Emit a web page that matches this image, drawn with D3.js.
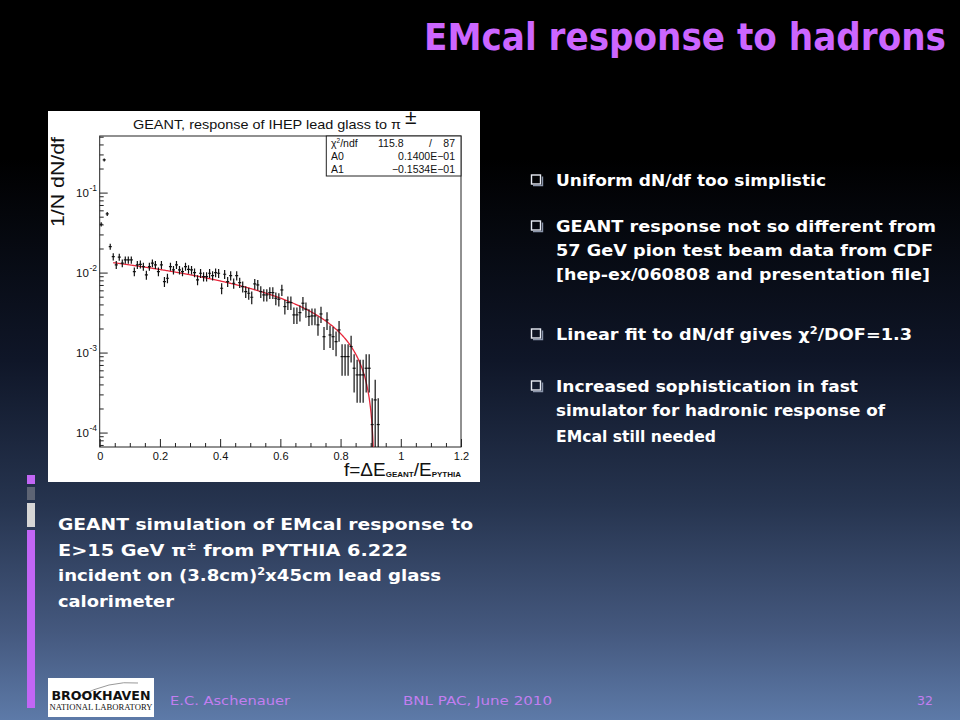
<!DOCTYPE html>
<html><head><meta charset="utf-8">
<script src="https://cdn.jsdelivr.net/npm/d3@7"></script>
<style>body{margin:0;background:#000;overflow:hidden}</style>
</head><body>
<svg id="c" width="960" height="720"></svg>
<script>
// ---- data ----
const binCenters = [0.005,0.015,0.025,0.035,0.045,0.055,0.065,0.075,0.085,0.095,
0.105,0.115,0.125,0.135,0.145,0.155,0.165,0.175,0.185,0.195,
0.205,0.215,0.225,0.235,0.245,0.255,0.265,0.275,0.285,0.295,
0.305,0.315,0.325,0.335,0.345,0.355,0.365,0.375,0.385,0.395,
0.405,0.415,0.425,0.435,0.445,0.455,0.465,0.475,0.485,0.495,
0.505,0.515,0.525,0.535,0.545,0.555,0.565,0.575,0.585,0.595,
0.605,0.615,0.625,0.635,0.645,0.655,0.665,0.675,0.685,0.695,
0.705,0.715,0.725,0.735,0.745,0.755,0.765,0.775,0.785,0.795,
0.805,0.815,0.825,0.835,0.845,0.855,0.865,0.875,0.885,0.895,
0.905,0.915,0.925];
const dNdf = [0.0402,0.256,0.0541,0.0211,0.0158,0.0125,0.0156,0.0131,0.0144,0.0144,
0.0144,0.0103,0.0125,0.0127,0.0119,0.00935,0.0119,0.0131,0.0125,0.0103,
0.0125,0.00772,0.00850,0.0119,0.0108,0.0125,0.0108,0.0103,0.0119,0.0110,
0.0108,0.0100,0.00810,0.00981,0.00891,0.00891,0.00981,0.00917,0.0100,0.00981,
0.00637,0.00953,0.00772,0.00917,0.00736,0.00917,0.00750,0.00668,0.00579,0.00552,
0.00492,0.00722,0.00701,0.00579,0.00526,0.00526,0.00562,0.00562,0.00478,0.00464,
0.00607,0.00376,0.00422,0.00422,0.00296,0.00296,0.00316,0.00414,0.00348,0.00282,
0.00287,0.00287,0.00222,0.00304,0.00158,0.00256,0.00166,0.00158,0.00137,0.00192,
0.000891,0.000891,0.000891,0.00119,0.000637,0.000526,0.000526,0.000526,0.000637,0.000637,
0.000126,0.000256,0.000126];
const binWidth = 0.01;
const countNorm = 1.6e-4;          // value of one entry (Poisson errors)
const fitA0 = 0.1400E-01, fitA1 = -0.1534E-01;
const fitStart = 0.045;
const xTicksMajor = [0,0.2,0.4,0.6,0.8,1,1.2];
const xTicksMinor = [0.05,0.1,0.15,0.25,0.3,0.35,0.45,0.5,0.55,0.65,0.7,0.75,0.85,0.9,0.95,1.05,1.1,1.15];
const yTicksMajor = [1e-4,1e-3,1e-2,1e-1];
const yTickLabels = ["-4","-3","-2","-1"];
const yTicksMinor = [7e-5,8e-5,9e-5,2e-4,3e-4,4e-4,5e-4,6e-4,7e-4,8e-4,9e-4,
 2e-3,3e-3,4e-3,5e-3,6e-3,7e-3,8e-3,9e-3,2e-2,3e-2,4e-2,5e-2,6e-2,7e-2,8e-2,9e-2,2e-1,3e-1,4e-1,5e-1];
const statsLabels = ["χ²/ndf","A0","A1"];
const statsValues = ["87","0.1400E−01","−0.1534E−01"];
const statsChi2 = "115.8";
const bulletLines = [
 {t:"Uniform dN/df too simplistic", y:186, w:270, b:true},
 {t:"GEANT response not so different from", y:232, w:380, b:true},
 {t:"57 GeV pion test beam data from CDF", y:256, w:377},
 {t:"[hep-ex/060808 and presentation file]", y:280, w:374},
 {t:"Linear fit to dN/df gives χ²/DOF=1.3", y:340, w:356, b:true, chi:true},
 {t:"Increased sophistication in fast", y:392, w:302, b:true},
 {t:"simulator for hadronic response of", y:416, w:329},
 {t:"EMcal still needed", y:442, w:160}
];

const svg = d3.select("#c");
const defs = svg.append("defs");
const bg = defs.append("linearGradient").attr("id","bg").attr("x1",0).attr("y1",0).attr("x2",0).attr("y2",1);
[[0,"#000000"],[0.22,"#000000"],[0.5,"#0f1628"],[0.7,"#26344f"],[0.88,"#45597f"],[1,"#5d7aa8"]]
 .forEach(s=>bg.append("stop").attr("offset",s[0]).attr("stop-color",s[1]));
svg.append("rect").attr("width",960).attr("height",720).attr("fill","url(#bg)");

// title
svg.append("text").attr("transform","translate(424,50) scale(1,1.2)")
 .attr("font-family","'DejaVu Sans'").attr("font-weight","bold").attr("font-size",31)
 .attr("fill","#cc66ff").attr("textLength",522).attr("lengthAdjust","spacingAndGlyphs")
 .text("EMcal response to hadrons");

// left decorative bar
[[475,484,"#c266f5"],[487,500,"#5d6474"],[503,527,"#d6d6d6"],[530,708,"#c266f5"]].forEach(s=>
 svg.append("rect").attr("x",27).attr("y",s[0]).attr("width",8).attr("height",s[1]-s[0]).attr("fill",s[2]));

// ---- ROOT plot panel ----
svg.append("rect").attr("x",48).attr("y",111).attr("width",432).attr("height",371).attr("fill","#fff");
const x = d3.scaleLinear().domain([0,1.2]).range([99.7,461]);
const y = d3.scaleLog().domain([6.6e-5,0.51]).range([447,136]);
const [ymin,ymax] = y.domain();
defs.append("clipPath").attr("id","pc").append("rect")
 .attr("x",x(0)).attr("y",y(ymax)).attr("width",x(1.2)-x(0)).attr("height",y(ymin)-y(ymax));

const ax = svg.append("g").attr("font-family","'Liberation Sans',Arial,sans-serif");
function styleAxis(g){ g.select(".domain").remove(); g.selectAll("line").attr("stroke","#222").attr("stroke-width",1); }
ax.append("g").attr("transform",`translate(0,${y(ymin)})`)
 .call(d3.axisBottom(x).tickValues(xTicksMajor).tickSize(-8).tickSizeOuter(0).tickPadding(5).tickFormat(d3.format("~g")))
 .call(styleAxis).call(g=>g.selectAll("text").attr("font-size",11).attr("fill","#111"));
ax.append("g").attr("transform",`translate(0,${y(ymin)})`)
 .call(d3.axisBottom(x).tickValues(xTicksMinor).tickSize(-4).tickSizeOuter(0).tickFormat(""))
 .call(styleAxis);
ax.append("g").attr("transform",`translate(${x(0)},0)`)
 .call(d3.axisLeft(y).tickValues(yTicksMajor).tickSize(-8).tickSizeOuter(0).tickFormat(""))
 .call(styleAxis);
ax.append("g").attr("transform",`translate(${x(0)},0)`)
 .call(d3.axisLeft(y).tickValues(yTicksMinor).tickSize(-4).tickSizeOuter(0).tickFormat(""))
 .call(styleAxis);
yTicksMajor.forEach((v,i)=>{
 ax.append("text").attr("x",76).attr("y",y(v)+4).attr("font-size",11.5).attr("fill","#111").text("10");
 ax.append("text").attr("x",89.5).attr("y",y(v)-2).attr("font-size",8.5).attr("fill","#111").text(yTickLabels[i]);
});
// frame
ax.append("rect").attr("x",x(0)).attr("y",y(ymax)).attr("width",x(1.2)-x(0)).attr("height",y(ymin)-y(ymax))
 .attr("fill","none").attr("stroke","#222").attr("stroke-width",1);

// plot title
ax.append("text").attr("x",133).attr("y",129).attr("font-size",13.5).attr("fill","#111")
 .attr("textLength",268).attr("lengthAdjust","spacingAndGlyphs").text("GEANT, response of IHEP lead glass to π");
ax.append("text").attr("x",405).attr("y",124).attr("font-size",21).attr("fill","#111").text("±");
// axis titles
ax.append("text").attr("transform","translate(64,137) rotate(-90)").attr("text-anchor","end")
 .attr("font-size",19).attr("fill","#111").attr("textLength",90).attr("lengthAdjust","spacingAndGlyphs").text("1/N dN/df");
const xt = ax.append("text").attr("x",461).attr("y",476).attr("text-anchor","end").attr("font-size",19).attr("fill","#111");
xt.append("tspan").text("f=ΔE");
xt.append("tspan").attr("font-size",8).attr("font-weight","bold").attr("dy",1).text("GEANT");
xt.append("tspan").attr("dy",-1).text("/E");
xt.append("tspan").attr("font-size",8).attr("font-weight","bold").attr("dy",1).text("PYTHIA");

// stats box
const sx0 = 326.3, sy0 = y(ymax);
const sb = svg.append("g").attr("font-family","'Liberation Sans',Arial,sans-serif").attr("font-size",10.5).attr("fill","#111");
sb.append("rect").attr("x",sx0).attr("y",sy0).attr("width",x(1.2)-sx0).attr("height",40)
 .attr("fill","#fff").attr("stroke","#222").attr("stroke-width",1);
statsLabels.forEach((lab,i)=>{
 const by = sy0 + 10.5 + i*13;
 if(i===0){
  const t = sb.append("text").attr("x",331).attr("y",by);
  t.append("tspan").text("χ");
  t.append("tspan").attr("font-size",6.5).attr("dy",-4).text("2");
  t.append("tspan").attr("dy",4).text("/ndf");
  sb.append("text").attr("x",378).attr("y",by).text(statsChi2);
  sb.append("text").attr("x",429).attr("y",by).text("/");
 } else {
  sb.append("text").attr("x",331).attr("y",by).text(lab);
 }
 sb.append("text").attr("x",455).attr("y",by).attr("text-anchor","end").text(statsValues[i]);
});

// fit curve
const fitFn = f => fitA0 + fitA1*f;
const fEnd = (ymin - fitA0)/fitA1;
const fs = d3.range(fitStart, fEnd, 0.002).concat([fEnd]);
svg.append("path").attr("clip-path","url(#pc)")
 .attr("d", d3.line().x(f=>x(f)).y(f=>y(Math.max(fitFn(f),ymin)))(fs))
 .attr("fill","none").attr("stroke","#e8283c").attr("stroke-width",1.3);

// data points with errors
const pts = svg.append("g").attr("clip-path","url(#pc)").attr("stroke","#111").attr("stroke-width",1.2);
binCenters.forEach((f,i)=>{
 const v = dNdf[i];
 const err = Math.sqrt(v*countNorm);
 const lo = v-err > ymin ? y(v-err) : y(ymin);
 const hi = y(Math.min(v+err, ymax));
 pts.append("line").attr("x1",x(f)).attr("x2",x(f)).attr("y1",Math.max(lo,y(v)+1.5)).attr("y2",Math.min(hi,y(v)-1.5));
 pts.append("line").attr("x1",x(f-binWidth/2)).attr("x2",x(f+binWidth/2)).attr("y1",y(v)).attr("y2",y(v));
});

// ---- slide text ----
const txt = svg.append("g").attr("font-family","'DejaVu Sans',sans-serif").attr("font-weight","bold").attr("fill","#fff");
bulletLines.forEach(l=>{
 if(l.b){
  svg.append("rect").attr("x",531.5).attr("y",l.y-11).attr("width",9).attr("height",9).attr("fill","none").attr("stroke","#e8ecf4").attr("stroke-width",1.4);
  svg.append("path").attr("d",`M${533} ${l.y-0.5} H${542.5} V${l.y-9.5}`).attr("fill","none").attr("stroke","#8a95aa").attr("stroke-width",1.4);
 }
 const t = txt.append("text").attr("x",556).attr("y",l.y).attr("font-size",15.5)
   .attr("textLength",l.w).attr("lengthAdjust","spacingAndGlyphs");
 if(l.chi){
  t.append("tspan").text("Linear fit to dN/df gives χ");
  t.append("tspan").attr("font-size",10).attr("dy",-6).text("2");
  t.append("tspan").attr("dy",6).text("/DOF=1.3");
 } else t.text(l.t);
});
// caption
const cap = txt.append("g").attr("font-size",16);
cap.append("text").attr("x",58).attr("y",530).attr("textLength",415).attr("lengthAdjust","spacingAndGlyphs").text("GEANT simulation of EMcal response to");
const c2 = cap.append("text").attr("x",58).attr("y",556).attr("textLength",350).attr("lengthAdjust","spacingAndGlyphs");
c2.append("tspan").text("E>15 GeV π");
c2.append("tspan").attr("font-size",10).attr("dy",-6).text("±");
c2.append("tspan").attr("dy",6).text(" from PYTHIA 6.222");
const c3 = cap.append("text").attr("x",58).attr("y",581).attr("textLength",383).attr("lengthAdjust","spacingAndGlyphs");
c3.append("tspan").text("incident on (3.8cm)");
c3.append("tspan").attr("font-size",10).attr("dy",-6).text("2");
c3.append("tspan").attr("dy",6).text("x45cm lead glass");
cap.append("text").attr("x",58).attr("y",607).attr("textLength",116).attr("lengthAdjust","spacingAndGlyphs").text("calorimeter");

// footer
svg.append("rect").attr("x",48).attr("y",678).attr("width",106).attr("height",39).attr("fill","#fff");
svg.append("path").attr("d","M78 697 Q110 680 138 683").attr("fill","none").attr("stroke","#999").attr("stroke-width",1);
svg.append("text").attr("x",101).attr("y",700).attr("text-anchor","middle").attr("font-family","'DejaVu Sans'")
 .attr("font-weight","bold").attr("font-size",12).attr("fill","#111").attr("textLength",99).attr("lengthAdjust","spacingAndGlyphs").text("BROOKHAVEN");
svg.append("text").attr("x",101).attr("y",710).attr("text-anchor","middle").attr("font-family","'Liberation Serif',serif")
 .attr("font-size",7.5).attr("fill","#111").attr("textLength",103).attr("lengthAdjust","spacingAndGlyphs").text("NATIONAL LABORATORY");
const foot = svg.append("g").attr("font-family","'DejaVu Sans',sans-serif").attr("font-size",12.5).attr("fill","#c27ef0");
foot.append("text").attr("x",170).attr("y",705).attr("textLength",120).attr("lengthAdjust","spacingAndGlyphs").text("E.C. Aschenauer");
foot.append("text").attr("x",403).attr("y",705).attr("textLength",149).attr("lengthAdjust","spacingAndGlyphs").text("BNL PAC, June 2010");
foot.append("text").attr("x",933).attr("y",705).attr("text-anchor","end").text("32");
</script>
</body></html>
